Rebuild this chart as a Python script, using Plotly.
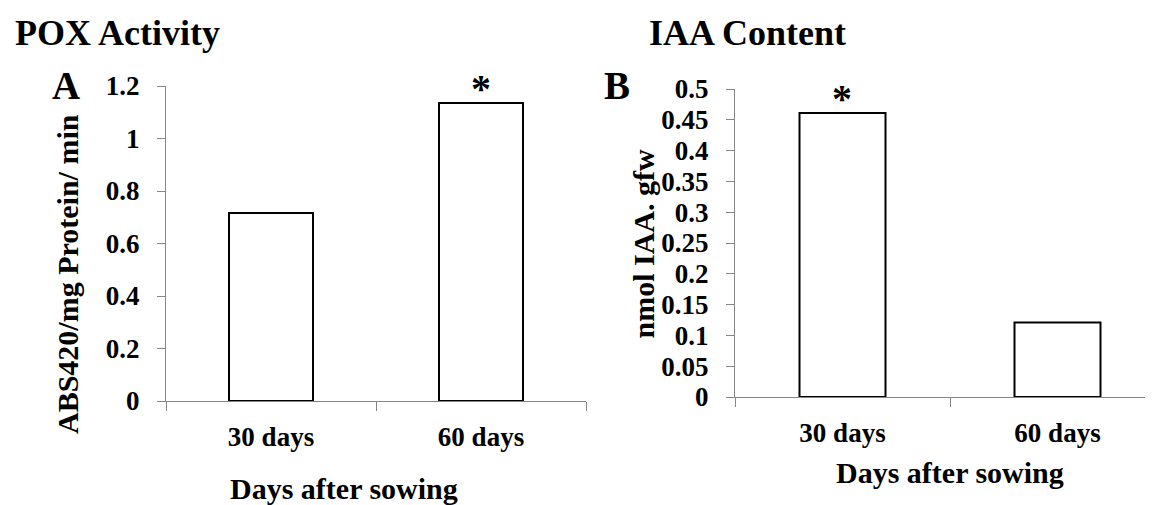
import plotly.graph_objects as go

# ---- data ----
categories = ["30 days", "60 days"]
pox_values = [0.716, 1.135]
iaa_values = [0.461, 0.121]
pox_ticks = [0, 0.2, 0.4, 0.6, 0.8, 1.0, 1.2]
pox_ticktext = ["0", "0.2", "0.4", "0.6", "0.8", "1", "1.2"]
iaa_ticks = [0, 0.05, 0.1, 0.15, 0.2, 0.25, 0.3, 0.35, 0.4, 0.45, 0.5]
iaa_ticktext = ["0", "0.05", "0.1", "0.15", "0.2", "0.25", "0.3", "0.35", "0.4", "0.45", "0.5"]
pox_sig = [False, True]
iaa_sig = [True, False]

PAGE_W, PAGE_H = 1153, 505
OFF = 8  # default body margin of the html page
W, H = PAGE_W - OFF, PAGE_H - OFF
FONT = "Liberation Serif"
GRAY = "#868686"


def px(x):
    return (x - OFF) / W


def py(y):
    return 1 - (y - OFF) / H


fig = go.Figure()

bar_style = dict(marker=dict(color="white", line=dict(color="black", width=2)),
                 width=0.4, showlegend=False, hoverinfo="x+y")
fig.add_trace(go.Bar(x=categories, y=pox_values, xaxis="x", yaxis="y", **bar_style))
fig.add_trace(go.Bar(x=categories, y=iaa_values, xaxis="x2", yaxis="y2", **bar_style))

tickfont = dict(family=FONT, size=27, color="black", weight="bold")

xcommon = dict(type="category", showline=True, linecolor=GRAY, linewidth=1.3,
               ticks="outside", tickson="boundaries", ticklen=9, tickcolor=GRAY,
               tickwidth=1.3, tickfont=tickfont, showgrid=False, zeroline=False,
               ticklabelstandoff=11, automargin=False)
ycommon = dict(showline=True, linecolor=GRAY, linewidth=1.3, ticks="outside",
               ticklen=8, tickcolor=GRAY, tickwidth=1.3, tickfont=tickfont,
               showgrid=False, zeroline=False, ticklabelstandoff=12, automargin=False)

# panel A: axis from x=166 to 586, y 0 at 401, 1.2 at 86
fig.update_layout(
    xaxis=dict(domain=[px(166), px(586)], range=[-0.5, 1.5], anchor="y", **xcommon),
    yaxis=dict(domain=[py(401), py(86)], range=[0, 1.2], anchor="x",
               tickvals=pox_ticks, ticktext=pox_ticktext, **ycommon),
)

# panel B: axis from x=735, categories 215 px wide, clipped at right edge
b_left = 735
b_cat = 215
b_right_range = -0.5 + (PAGE_W - b_left) / b_cat
fig.update_layout(
    xaxis2=dict(domain=[px(b_left), 1.0], range=[-0.5, b_right_range], anchor="y2", **xcommon),
    yaxis2=dict(domain=[py(397), py(89)], range=[0, 0.5], anchor="x2",
                tickvals=iaa_ticks, ticktext=iaa_ticktext, **ycommon),
)

ann = []


def text_ann(text, x, y, size, angle=0, xanchor="center"):
    ann.append(dict(text=text, x=px(x), y=py(y), xref="paper", yref="paper",
                    xanchor=xanchor, yanchor="middle", showarrow=False,
                    textangle=angle,
                    font=dict(family=FONT, size=size, color="black", weight="bold")))


text_ann("POX Activity", 13, 33, 36, xanchor="left")
text_ann("IAA Content", 647, 33, 36, xanchor="left")
text_ann("A", 66, 85, 39)
text_ann("B", 617, 85, 39)
text_ann("ABS420/mg Protein/ min", 67, 274, 30, angle=-90)
text_ann("nmol IAA. gfw", 643, 243.5, 30, angle=-90)
text_ann("Days after sowing", 343.5, 488, 30)
text_ann("Days after sowing", 950, 472, 30)

for cat, val, sig in zip(categories, pox_values, pox_sig):
    if sig:
        ann.append(dict(text="*", x=cat, y=val, xref="x", yref="y", showarrow=False,
                        xanchor="center", yanchor="bottom", yshift=-10,
                        font=dict(family=FONT, size=40, color="black", weight="bold")))
for cat, val, sig in zip(categories, iaa_values, iaa_sig):
    if sig:
        ann.append(dict(text="*", x=cat, y=val, xref="x2", yref="y2", showarrow=False,
                        xanchor="center", yanchor="bottom", yshift=-10,
                        font=dict(family=FONT, size=40, color="black", weight="bold")))

fig.update_layout(
    template="none",
    width=W, height=H, margin=dict(l=0, r=0, t=0, b=0),
    paper_bgcolor="white", plot_bgcolor="white",
    annotations=ann, bargap=0.6,
)

fig.write_html("out.html")
